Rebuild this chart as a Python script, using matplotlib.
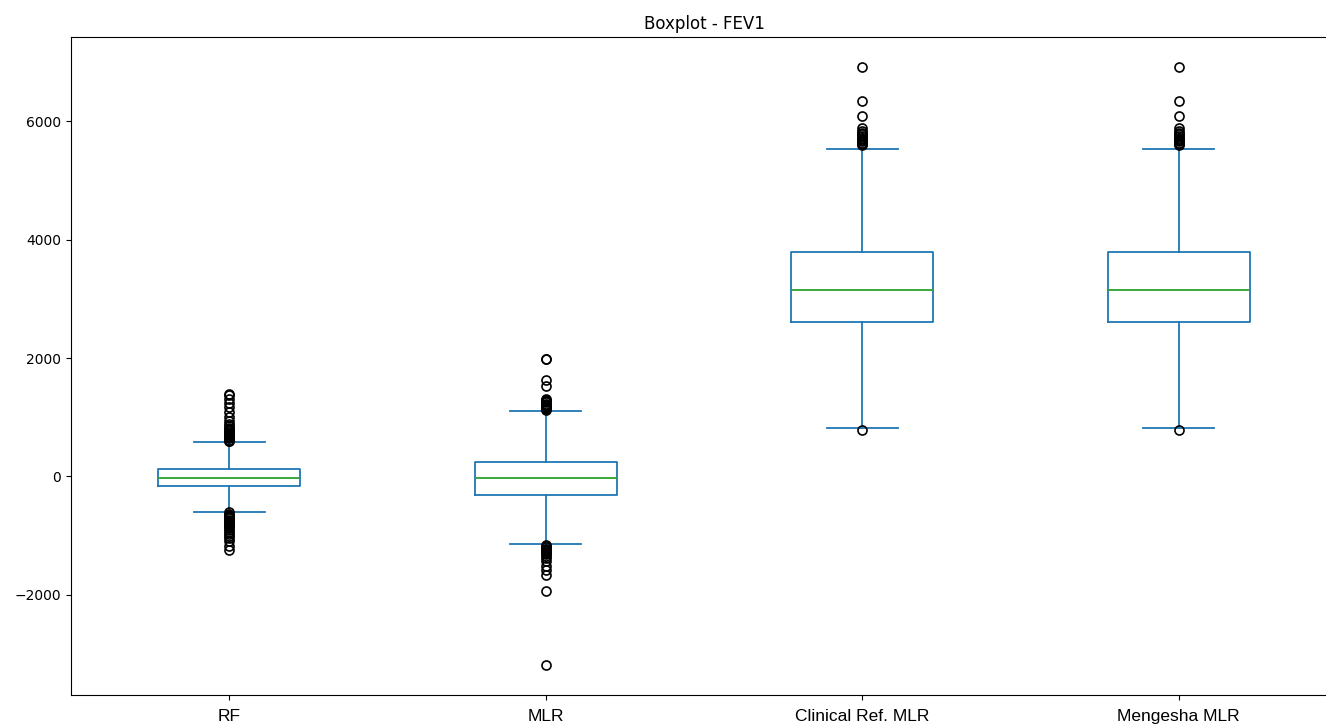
import matplotlib
matplotlib.use("Agg")
import matplotlib.pyplot as plt

# values (FEV1 residuals / predictions)
labels = ["RF", "MLR", "Clinical Ref. MLR", "Mengesha MLR"]
medians = [-30, -27, 3150, 3150]
q1s = [-157, -315, 2616, 2616]
q3s = [130, 249, 3790, 3790]
whis_lo = [-597, -1148, 813, 813]
whis_hi = [575, 1101, 5541, 5541]

rf_fliers = [1390, 1370, 1300, 1240, 1180, 1080, 1000, 930, 880, 850, 820, 800,
             780, 760, 740, 720, 700, 680, 660, 640, 620, 600, 590,
             -610, -630, -650, -670, -690, -710, -730, -750, -770, -790, -810,
             -830, -850, -880, -910, -940, -970, -1000, -1050, -1100, -1170, -1240]
mlr_fliers = [1990, 1975, 1630, 1520, 1310, 1290, 1270, 1250, 1230, 1210, 1190,
              1170, 1150, 1130, 1115,
              -1160, -1180, -1200, -1220, -1240, -1260, -1280, -1300, -1320, -1350,
              -1380, -1430, -1520, -1580, -1670, -1930, -3190]
clinical_fliers = [6920, 6350, 6095, 5880, 5840, 5810, 5780, 5750, 5720, 5700,
                   5680, 5660, 5640, 5620, 5600, 784]
mengesha_fliers = [6920, 6350, 6095, 5880, 5840, 5810, 5780, 5750, 5720, 5700,
                   5680, 5660, 5640, 5620, 5600, 784]


def main() -> None:
    fliers = [rf_fliers, mlr_fliers, clinical_fliers, mengesha_fliers]
    stats = []
    for i in range(len(labels)):
        stats.append({"label": labels[i], "med": medians[i], "q1": q1s[i], "q3": q3s[i],
                      "whislo": whis_lo[i], "whishi": whis_hi[i], "fliers": fliers[i]})

    fig = plt.figure(figsize=(13.26, 7.27), dpi=100)
    # the axes run past the right edge, like in the cropped screenshot
    ax = fig.add_axes([71 / 1326, 32 / 727, 1266 / 1326, 658 / 727])

    ax.bxp(stats, widths=0.45,
           boxprops=dict(color="#1f77b4", linewidth=1.3),
           whiskerprops=dict(color="#1f77b4", linewidth=1.3),
           capprops=dict(color="#1f77b4", linewidth=1.3),
           medianprops=dict(color="#2ca02c", linewidth=1.3),
           flierprops=dict(marker="o", markeredgecolor="black", markerfacecolor="none",
                           markersize=6.5, markeredgewidth=1.2))

    ax.set_title("Boxplot - FEV1", fontsize=12)
    ax.tick_params(axis="y", labelsize=10)
    ax.tick_params(axis="x", pad=6.5)
    for lab in ax.get_xticklabels():
        lab.set_fontfamily(["Liberation Sans", "DejaVu Sans"])
        lab.set_fontsize(12.5)

    fig.savefig("out.png", dpi=100)
    plt.close(fig)


if __name__ == "__main__":
    main()
